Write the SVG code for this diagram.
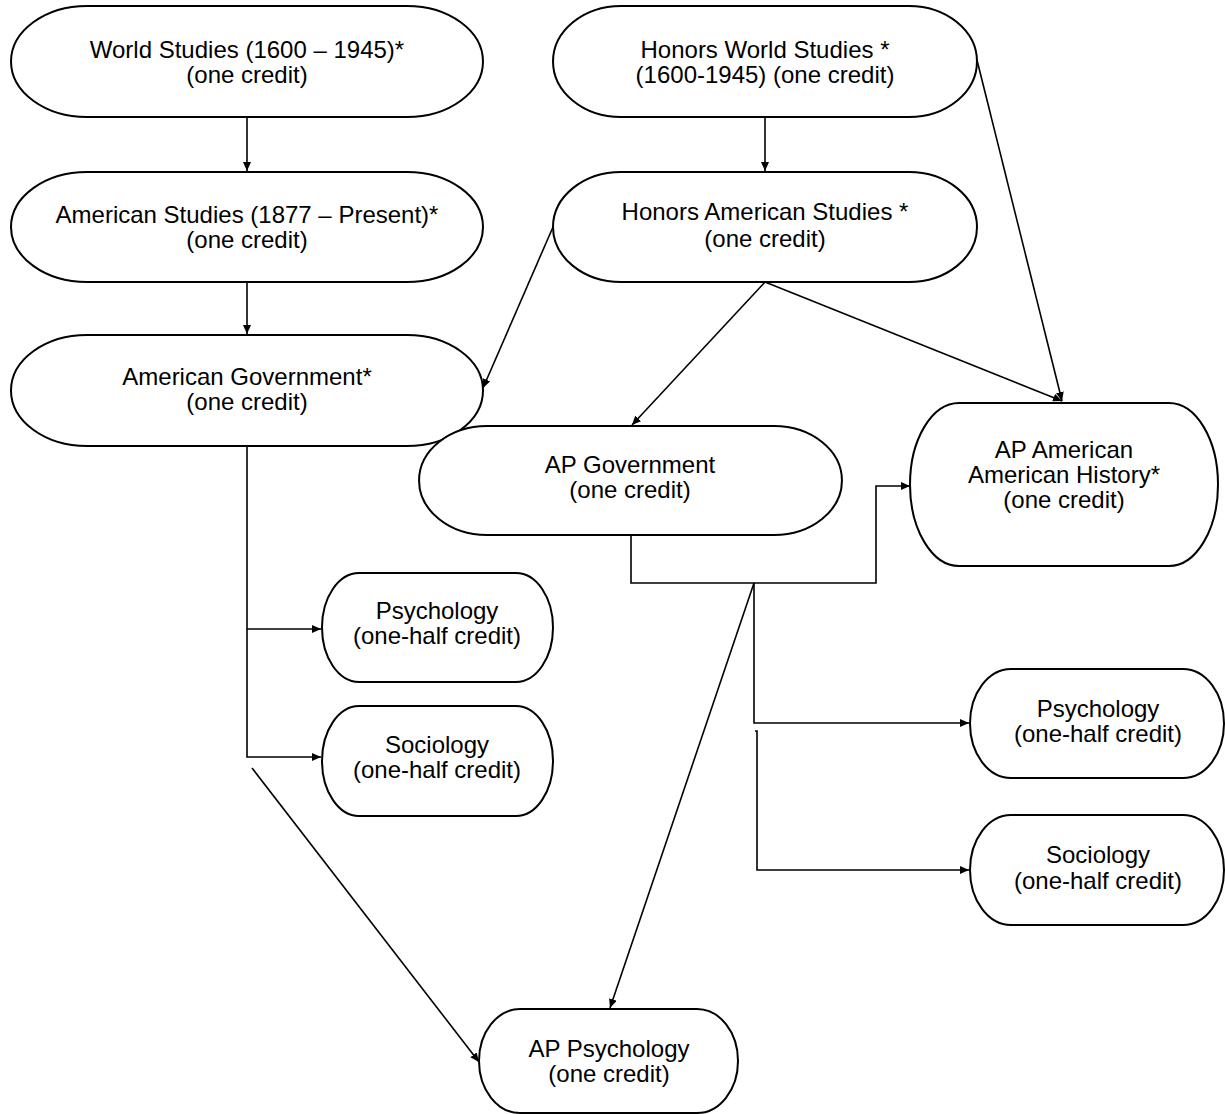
<svg xmlns="http://www.w3.org/2000/svg" width="1225" height="1114" viewBox="0 0 1225 1114">
<style>
.n{fill:#fff;stroke:#000;stroke-width:2}
.t{font-family:"Liberation Sans",Arial,sans-serif;font-size:24px;fill:#000;text-anchor:middle}
.c{fill:none;stroke:#000;stroke-width:1.6}
</style>
<defs>
<marker id="a" markerUnits="userSpaceOnUse" markerWidth="10" markerHeight="8" refX="9" refY="4" orient="auto">
<path d="M0,0 L9,4 L0,8 Z" fill="#000"/>
</marker>
</defs>
<rect width="1225" height="1114" fill="#fff"/>
<g id="connectors">
<path class="c" d="M247,117 V171" marker-end="url(#a)"/>
<path class="c" d="M765,117 V171" marker-end="url(#a)"/>
<path class="c" d="M247,282 V334" marker-end="url(#a)"/>
<path class="c" d="M553,227 L483,388" marker-end="url(#a)"/>
<path class="c" d="M765,282 L632,425" marker-end="url(#a)"/>
<path class="c" d="M765,282 L1062,401" marker-end="url(#a)"/>
<path class="c" d="M977,60 L1062,401" marker-end="url(#a)"/>
<path class="c" d="M247,446 V757 H321" marker-end="url(#a)"/>
<path class="c" d="M247,629 H321" marker-end="url(#a)"/>
<path class="c" d="M252,768 L479,1062" marker-end="url(#a)"/>
<path class="c" d="M631,535 V583 H876 V486 H910" marker-end="url(#a)"/>
<path class="c" d="M754,583 L610,1008" marker-end="url(#a)"/>
<path class="c" d="M754,583 V723 H969" marker-end="url(#a)"/>
<path class="c" d="M755,731 H757 V870 H969" marker-end="url(#a)"/>
</g>
<g id="n1"><path class="n" d="M87,6 H407 A76,55.5 0 0 1 407,117 H87 A76,55.5 0 0 1 87,6 Z"/>
<text class="t" x="247" y="58">World Studies (1600 – 1945)*</text><text class="t" x="247" y="83">(one credit)</text></g>
<g id="n2"><path class="n" d="M621,6 H909 A68,55.5 0 0 1 909,117 H621 A68,55.5 0 0 1 621,6 Z"/>
<text class="t" x="765" y="58">Honors World Studies *</text><text class="t" x="765" y="83">(1600-1945) (one credit)</text></g>
<g id="n3"><path class="n" d="M87,172 H407 A76,55 0 0 1 407,282 H87 A76,55 0 0 1 87,172 Z"/>
<text class="t" x="247" y="223">American Studies (1877 – Present)*</text><text class="t" x="247" y="248">(one credit)</text></g>
<g id="n4"><path class="n" d="M621,172 H909 A68,55 0 0 1 909,282 H621 A68,55 0 0 1 621,172 Z"/>
<text class="t" x="765" y="220">Honors American Studies *</text><text class="t" x="765" y="247">(one credit)</text></g>
<g id="n5"><path class="n" d="M87,335 H407 A76,55.5 0 0 1 407,446 H87 A76,55.5 0 0 1 87,335 Z"/>
<text class="t" x="247" y="385">American Government*</text><text class="t" x="247" y="410">(one credit)</text></g>
<g id="n6"><path class="n" d="M487,426 H774 A68,54.5 0 0 1 774,535 H487 A68,54.5 0 0 1 487,426 Z"/>
<text class="t" x="630" y="473">AP Government</text><text class="t" x="630" y="498">(one credit)</text></g>
<g id="n7"><path class="n" d="M959,403 H1169 A49,81.5 0 0 1 1169,566 H959 A49,81.5 0 0 1 959,403 Z"/>
<text class="t" x="1064" y="458">AP American</text><text class="t" x="1064" y="483">American History*</text><text class="t" x="1064" y="508">(one credit)</text></g>
<g id="n8"><path class="n" d="M359,573 H516 A37,54.5 0 0 1 516,682 H359 A37,54.5 0 0 1 359,573 Z"/>
<text class="t" x="437" y="619">Psychology</text><text class="t" x="437" y="644">(one-half credit)</text></g>
<g id="n9"><path class="n" d="M359,706 H516 A37,55 0 0 1 516,816 H359 A37,55 0 0 1 359,706 Z"/>
<text class="t" x="437" y="753">Sociology</text><text class="t" x="437" y="778">(one-half credit)</text></g>
<g id="n10"><path class="n" d="M1011,669 H1183 A41,54.5 0 0 1 1183,778 H1011 A41,54.5 0 0 1 1011,669 Z"/>
<text class="t" x="1098" y="717">Psychology</text><text class="t" x="1098" y="742">(one-half credit)</text></g>
<g id="n11"><path class="n" d="M1011,815 H1183 A41,55 0 0 1 1183,925 H1011 A41,55 0 0 1 1011,815 Z"/>
<text class="t" x="1098" y="863">Sociology</text><text class="t" x="1098" y="889">(one-half credit)</text></g>
<g id="n12"><path class="n" d="M520,1009 H697 A41,52 0 0 1 697,1113 H520 A41,52 0 0 1 520,1009 Z"/>
<text class="t" x="609" y="1057">AP Psychology</text><text class="t" x="609" y="1082">(one credit)</text></g>
</svg>
